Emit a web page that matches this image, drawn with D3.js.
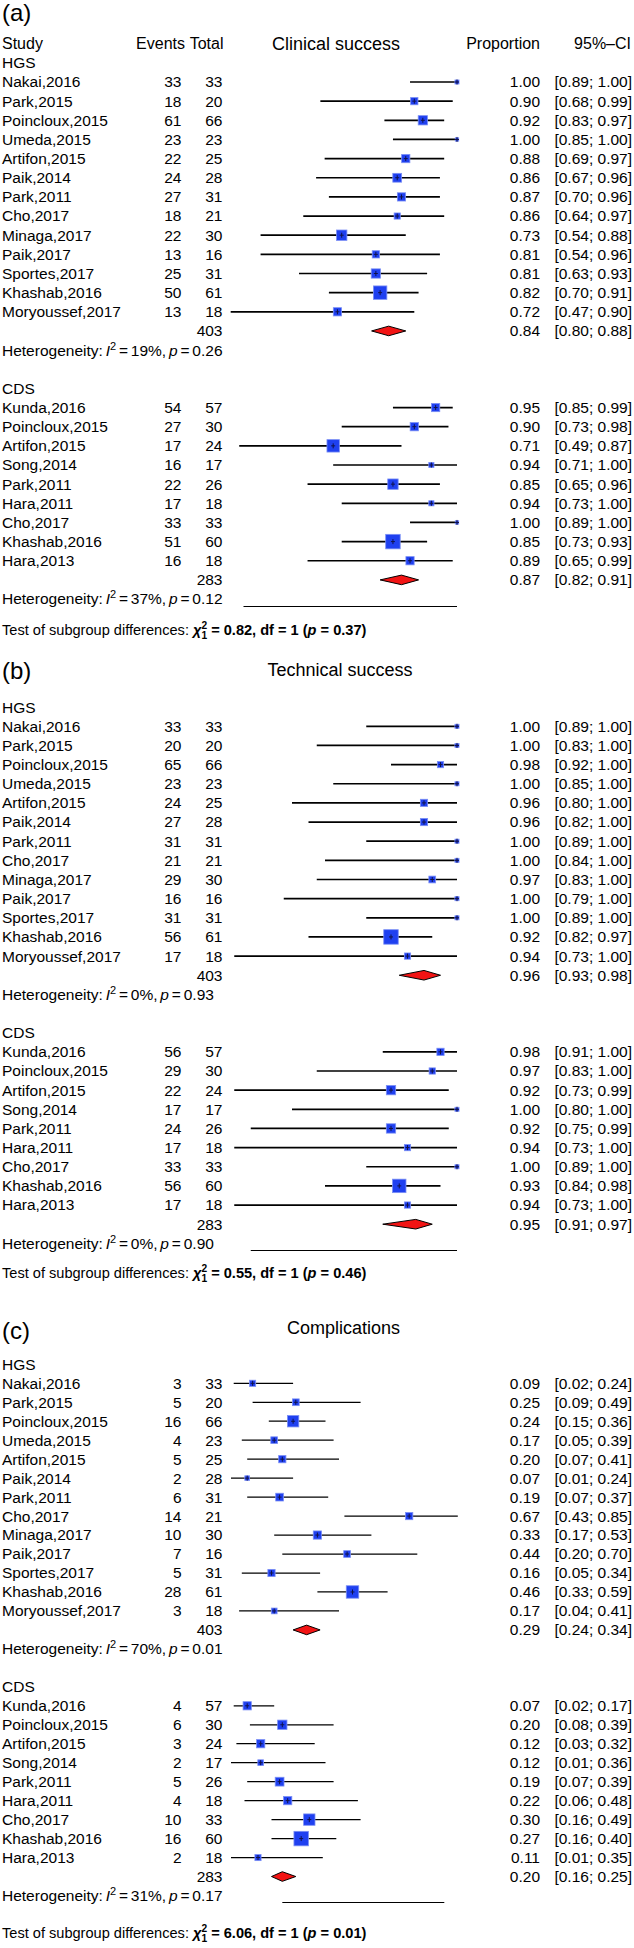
<!DOCTYPE html>
<html><head><meta charset="utf-8">
<script src="https://cdn.jsdelivr.net/npm/d3@7"></script>
<style>body{margin:0;background:#fff} svg{display:block}</style>
</head><body>
<script>
// ---------- DATA ----------
const studiesHGS = ["Nakai,2016","Park,2015","Poincloux,2015","Umeda,2015","Artifon,2015","Paik,2014","Park,2011","Cho,2017","Minaga,2017","Paik,2017","Sportes,2017","Khashab,2016","Moryoussef,2017"];
const studiesCDS = ["Kunda,2016","Poincloux,2015","Artifon,2015","Song,2014","Park,2011","Hara,2011","Cho,2017","Khashab,2016","Hara,2013"];
const subgroups = ["HGS","CDS"];
const columnHeaders = ["Study","Events","Total","Proportion","95%\u2013CI"];
const panelLabels = ["(a)","(b)","(c)"];
const outcomeTitles = ["Clinical success","Technical success","Complications"];

// (a) Clinical success
const clinEventsHGS = [33,18,61,23,22,24,27,18,22,13,25,50,13];
const clinTotalHGS  = [33,20,66,23,25,28,31,21,30,16,31,61,18];
const clinPropHGS   = [1.00,0.90,0.92,1.00,0.88,0.86,0.87,0.86,0.73,0.81,0.81,0.82,0.72];
const clinLowerHGS  = [0.89,0.68,0.83,0.85,0.69,0.67,0.70,0.64,0.54,0.54,0.63,0.70,0.47];
const clinUpperHGS  = [1.00,0.99,0.97,1.00,0.97,0.96,0.96,0.97,0.88,0.96,0.93,0.91,0.90];
const clinWeightHGS = [1.0,3.2,5.2,0.6,4.1,4.7,4.1,2.3,6.5,3.2,5.2,10.9,4.1];
const clinEventsCDS = [54,27,17,16,22,17,33,51,16];
const clinTotalCDS  = [57,30,24,17,26,18,33,60,18];
const clinPropCDS   = [0.95,0.90,0.71,0.94,0.85,0.94,1.00,0.85,0.89];
const clinLowerCDS  = [0.85,0.73,0.49,0.71,0.65,0.73,0.89,0.73,0.65];
const clinUpperCDS  = [0.99,0.98,0.87,1.00,0.96,1.00,1.00,0.93,0.99];
const clinWeightCDS = [4.1,4.1,9.3,1.6,6.5,1.6,0.6,12.7,4.1];
const clinPooled = [0.84,0.87];
const clinPooledLower = [0.80,0.82];
const clinPooledUpper = [0.88,0.91];
const clinN = [403,283];
const clinI2 = [19,37];
const clinHetP = ["0.26","0.12"];
const clinTest = ["0.82","1","0.37"];
const clinAxis = [0.5,1];

// (b) Technical success
const techEventsHGS = [33,20,65,23,24,27,31,21,29,16,31,56,17];
const techTotalHGS  = [33,20,66,23,25,28,31,21,30,16,31,61,18];
const techPropHGS   = [1.00,1.00,0.98,1.00,0.96,0.96,1.00,1.00,0.97,1.00,1.00,0.92,0.94];
const techLowerHGS  = [0.89,0.83,0.92,0.85,0.80,0.82,0.89,0.84,0.83,0.79,0.89,0.82,0.73];
const techUpperHGS  = [1.00,1.00,1.00,1.00,1.00,1.00,1.00,1.00,1.00,1.00,1.00,0.97,1.00];
const techWeightHGS = [1.5,1.5,3.5,1.5,4.7,4.7,1.5,1.5,4.1,1.5,1.5,18.8,3.5];
const techEventsCDS = [56,29,22,17,24,17,33,56,17];
const techTotalCDS  = [57,30,24,17,26,18,33,60,18];
const techPropCDS   = [0.98,0.97,0.92,1.00,0.92,0.94,1.00,0.93,0.94];
const techLowerCDS  = [0.91,0.83,0.73,0.80,0.75,0.73,0.89,0.84,0.73];
const techUpperCDS  = [1.00,1.00,0.99,1.00,0.99,1.00,1.00,0.98,1.00];
const techWeightCDS = [4.7,3.5,7.8,1.5,7.8,3.5,1.5,16.2,3.5];
const techPooled = [0.96,0.95];
const techPooledLower = [0.93,0.91];
const techPooledUpper = [0.98,0.97];
const techN = [403,283];
const techI2 = [0,0];
const techHetP = ["0.93","0.90"];
const techTest = ["0.55","1","0.46"];
const techAxis = [0.75,1];

// (c) Complications
const compEventsHGS = [3,5,16,4,5,2,6,14,10,7,5,28,3];
const compTotalHGS  = [33,20,66,23,25,28,31,21,30,16,31,61,18];
const compPropHGS   = [0.09,0.25,0.24,0.17,0.20,0.07,0.19,0.67,0.33,0.44,0.16,0.46,0.17];
const compLowerHGS  = [0.02,0.09,0.15,0.05,0.07,0.01,0.07,0.43,0.17,0.20,0.05,0.33,0.04];
const compUpperHGS  = [0.24,0.49,0.36,0.39,0.41,0.24,0.37,0.85,0.53,0.70,0.34,0.59,0.41];
const compWeightHGS = [2.4,2.9,8.2,2.9,3.3,1.4,3.8,3.3,4.3,2.9,3.3,9.8,2.1];
const compEventsCDS = [4,6,3,2,5,4,10,16,2];
const compTotalCDS  = [57,30,24,17,26,18,33,60,18];
const compPropCDS   = [0.07,0.20,0.12,0.12,0.19,0.22,0.30,0.27,0.11];
const compLowerCDS  = [0.02,0.08,0.03,0.01,0.07,0.06,0.16,0.16,0.01];
const compUpperCDS  = [0.17,0.39,0.32,0.36,0.39,0.48,0.49,0.40,0.35];
const compWeightCDS = [4.3,5.5,4.3,2.1,4.9,4.3,8.2,13.3,2.4];
const compPooled = [0.29,0.20];
const compPooledLower = [0.24,0.16];
const compPooledUpper = [0.34,0.25];
const compN = [403,283];
const compI2 = [70,31];
const compHetP = ["0.01","0.17"];
const compTest = ["6.06","1","0.01"];
const compAxis = [0.2,0.8];

// ---------- LAYOUT / STYLE ----------
const W = 634, H = 1948;
const FONT = "'Liberation Sans', Arial, Helvetica, sans-serif";
const FS = 15.5;
const col = {study: 2, events: 181.5, total: 222.5, prop: 540, ci: 632, evHead: 185, totHead: 223.5};
const fmt = d3.format(".2f");

const svg = d3.select("body").append("svg")
  .attr("width", W).attr("height", H)
  .style("font-family", FONT).style("font-size", FS + "px");
svg.append("rect").attr("width", W).attr("height", H).attr("fill", "#fff");

function txt(g, x, y, s, anchor) {
  return g.append("text").attr("x", x).attr("y", y).attr("dy", "0.35em")
    .attr("text-anchor", anchor || "start").attr("fill", "#000").text(s);
}

// heterogeneity line built from tokens, gap G between tokens (plotmath-like spacing)
function hetText(g, y, i2, p, G) {
  const t = g.append("text").attr("x", col.study).attr("y", y).attr("dy", "0.35em");
  t.append("tspan").text("Heterogeneity:");
  t.append("tspan").attr("dx", G).attr("font-style", "italic").text("I");
  t.append("tspan").attr("font-size", 11).attr("dy", -6).text("2");
  t.append("tspan").attr("dy", 6).attr("dx", G).text("=");
  t.append("tspan").attr("dx", G).text(i2 + "%,");
  t.append("tspan").attr("dx", G).attr("font-style", "italic").text("p");
  t.append("tspan").attr("dx", G).text("=");
  t.append("tspan").attr("dx", G).text(p);
  return t;
}
function testText(g, y, vals, fs) {
  const k = fs / 15;
  const t = g.append("text").attr("x", col.study).attr("y", y).attr("dy", "0.35em").attr("font-size", fs);
  t.append("tspan").text("Test of subgroup differences: ");
  t.append("tspan").attr("font-weight", "bold").attr("font-style", "italic").text("\u03C7");
  t.append("tspan").attr("font-weight", "bold").attr("font-size", 10.5 * k).attr("dy", -6 * k).text("2");
  t.append("tspan").attr("font-weight", "bold").attr("font-size", 10.5 * k).attr("dx", -5.8 * k).attr("dy", 10 * k).text("1");
  t.append("tspan").attr("font-weight", "bold").attr("dy", -4 * k).text(" = " + vals[0] + ", df = " + vals[1] + " (");
  t.append("tspan").attr("font-weight", "bold").attr("font-style", "italic").text("p");
  t.append("tspan").attr("font-weight", "bold").text(" = " + vals[2] + ")");
  return t;
}

// calibrate: heterogeneity line of (a)/HGS ends at the Total column's right edge
const tmp = svg.append("g");
const het0 = hetText(tmp, -100, clinI2[0], clinHetP[0], 0).node().getComputedTextLength();
const HET_GAP = Math.max(2.5, Math.min(10, (col.total - col.study - het0) / 6));
// calibrate: test line of (a) ends near the left tip of the HGS pooled diamond
const test0 = testText(tmp, -100, clinTest, 15).node().getComputedTextLength();
const TEST_FS = Math.max(13.5, Math.min(16.5, 15 * (372.5 - col.study) / test0));
tmp.remove();

const panels = [
  { label: panelLabels[0], title: outcomeTitles[0], labelY: 12.5, titleY: 43.5, titleX: 336, header: true,
    first: 82, step: 19.15, testY: 630, range: [243.5, 457], axis: clinAxis, lw: 1.7,
    groups: [
      {ev: clinEventsHGS, n: clinTotalHGS, p: clinPropHGS, lo: clinLowerHGS, hi: clinUpperHGS, w: clinWeightHGS, names: studiesHGS},
      {ev: clinEventsCDS, n: clinTotalCDS, p: clinPropCDS, lo: clinLowerCDS, hi: clinUpperCDS, w: clinWeightCDS, names: studiesCDS}],
    pooled: clinPooled, plo: clinPooledLower, phi: clinPooledUpper, N: clinN, I2: clinI2, hetP: clinHetP, test: clinTest },
  { label: panelLabels[1], title: outcomeTitles[1], labelY: 671, titleY: 670, titleX: 340, header: false,
    first: 726.3, step: 19.15, testY: 1273, range: [250.75, 457], axis: techAxis, lw: 1.7,
    groups: [
      {ev: techEventsHGS, n: techTotalHGS, p: techPropHGS, lo: techLowerHGS, hi: techUpperHGS, w: techWeightHGS, names: studiesHGS},
      {ev: techEventsCDS, n: techTotalCDS, p: techPropCDS, lo: techLowerCDS, hi: techUpperCDS, w: techWeightCDS, names: studiesCDS}],
    pooled: techPooled, plo: techPooledLower, phi: techPooledUpper, N: techN, I2: techI2, hetP: techHetP, test: techTest },
  { label: panelLabels[2], title: outcomeTitles[2], labelY: 1331, titleY: 1328, titleX: 343.5, header: false,
    first: 1383.3, step: 18.97, testY: 1933, range: [282.3, 444.3], axis: compAxis, lw: 1.25,
    groups: [
      {ev: compEventsHGS, n: compTotalHGS, p: compPropHGS, lo: compLowerHGS, hi: compUpperHGS, w: compWeightHGS, names: studiesHGS},
      {ev: compEventsCDS, n: compTotalCDS, p: compPropCDS, lo: compLowerCDS, hi: compUpperCDS, w: compWeightCDS, names: studiesCDS}],
    pooled: compPooled, plo: compPooledLower, phi: compPooledUpper, N: compN, I2: compI2, hetP: compHetP, test: compTest }
];

panels.forEach(P => {
  const g = svg.append("g");
  const x = d3.scaleLinear().domain(P.axis).range(P.range);
  const maxW = d3.max(P.groups.flatMap(gr => gr.w));
  const size = d3.scaleSqrt().domain([0, maxW]).range([0, 14.5]);

  g.append("text").attr("x", 2).attr("y", P.labelY).attr("font-size", 24).attr("dy", "0.35em").text(P.label);
  g.append("text").attr("x", P.titleX).attr("y", P.titleY).attr("dy", "0.35em")
    .attr("text-anchor", "middle").attr("font-size", 18).text(P.title);
  if (P.header) {
    const hs = 16;
    txt(g, col.study, P.titleY, columnHeaders[0]).attr("font-size", hs);
    txt(g, col.evHead, P.titleY, columnHeaders[1], "end").attr("font-size", hs);
    txt(g, col.totHead, P.titleY, columnHeaders[2], "end").attr("font-size", hs);
    txt(g, col.prop, P.titleY, columnHeaders[3], "end").attr("font-size", hs);
    txt(g, col.ci - 1, P.titleY, columnHeaders[4], "end").attr("font-size", hs);
  }

  const rowY = r => P.first + r * P.step;
  let hetYLast = 0;
  P.groups.forEach((gr, gi) => {
    const base = gi === 0 ? 0 : 17;
    txt(g, col.study, rowY(base - 1), subgroups[gi]);
    const rows = gr.names.map((nm, i) => ({nm, ev: gr.ev[i], n: gr.n[i], p: gr.p[i], lo: gr.lo[i], hi: gr.hi[i], w: gr.w[i], y: rowY(base + i)}));
    const rg = g.selectAll(null).data(rows).enter().append("g");
    rg.each(function(d) {
      const s = d3.select(this);
      txt(s, col.study, d.y, d.nm);
      txt(s, col.events, d.y, d.ev, "end");
      txt(s, col.total, d.y, d.n, "end");
      txt(s, col.prop, d.y, fmt(d.p), "end");
      txt(s, col.ci, d.y, "[" + fmt(d.lo) + "; " + fmt(d.hi) + "]", "end");
      s.append("line").attr("x1", x(d.lo)).attr("x2", x(d.hi)).attr("y1", d.y).attr("y2", d.y)
        .attr("stroke", "#000").attr("stroke-width", P.lw);
      const sz = Math.max(3.4, size(d.w));
      s.append("rect").attr("x", x(d.p) - sz / 2).attr("y", d.y - sz / 2).attr("width", sz).attr("height", sz)
        .attr("fill", "#1f40f0").attr("stroke", "#7b8ff5").attr("stroke-width", 0.8);
      s.append("path").attr("d", `M${x(d.p) - 2},${d.y}h4M${x(d.p)},${d.y - 2.5}v5`)
        .attr("stroke", "#10124a").attr("stroke-width", 1);
    });
    const ty = rowY(base + gr.names.length);
    txt(g, col.total, ty, P.N[gi], "end");
    txt(g, col.prop, ty, fmt(P.pooled[gi]), "end");
    txt(g, col.ci, ty, "[" + fmt(P.plo[gi]) + "; " + fmt(P.phi[gi]) + "]", "end");
    const dh = 4.8;
    g.append("path")
      .attr("d", `M${x(P.plo[gi])},${ty}L${x(P.pooled[gi])},${ty - dh}L${x(P.phi[gi])},${ty}L${x(P.pooled[gi])},${ty + dh}Z`)
      .attr("fill", "#f21414").attr("stroke", "#000").attr("stroke-width", 1);
    const hy = rowY(base + gr.names.length + 1);
    hetYLast = hy;
    hetText(g, hy, P.I2[gi], P.hetP[gi], HET_GAP);
  });

  const ay = Math.round(hetYLast + 7) + 0.5;
  g.append("line").attr("x1", x(P.axis[0])).attr("x2", x(P.axis[1])).attr("y1", ay).attr("y2", ay)
    .attr("stroke", "#000").attr("stroke-width", 1.2);

  testText(g, P.testY, P.test, TEST_FS);
});
</script>
</body></html>
